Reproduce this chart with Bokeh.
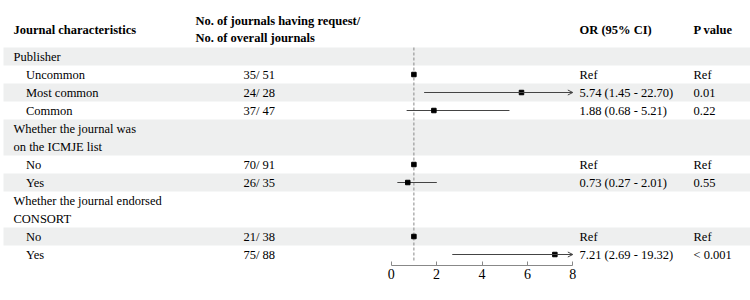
import math
from bokeh.plotting import figure
from bokeh.models import (ColumnDataSource, Range1d, FixedTicker, Arrow, OpenHead,
                          LinearAxis)
from bokeh.core.properties import value
from bokeh.embed import file_html
from bokeh.resources import INLINE

nan = float("nan")

# ---- data ----
labels = ["Publisher", "Uncommon", "Most common", "Common",
          "Whether the journal was\non the ICMJE list", "No", "Yes",
          "Whether the journal endorsed\nCONSORT", "No", "Yes"]
is_group = [True, False, False, False, True, False, False, True, False, False]
counts = ["", "35/ 51", "24/ 28", "37/ 47", "", "70/ 91", "26/ 35", "", "21/ 38", "75/ 88"]
or_est = [nan, 1.0, 5.74, 1.88, nan, 1.0, 0.73, nan, 1.0, 7.21]
ci_lo = [nan, nan, 1.45, 0.68, nan, nan, 0.27, nan, nan, 2.69]
ci_hi = [nan, nan, 22.70, 5.21, nan, nan, 2.01, nan, nan, 19.32]
or_text = ["", "Ref", "5.74 (1.45 - 22.70)", "1.88 (0.68 - 5.21)", "", "Ref",
           "0.73 (0.27 - 2.01)", "", "Ref", "7.21 (2.69 - 19.32)"]
p_text = ["", "Ref", "0.01", "0.22", "", "Ref", "0.55", "", "Ref", "< 0.001"]
header_cols = ["Journal characteristics",
               "No. of journals having request/\nNo. of overall journals",
               "", "OR (95% CI)", "P value"]
x_ticks = [0, 2, 4, 6, 8]
x_lim = (0, 8)
ref_value = 1

# ---- layout ----
W, H = 750, 300
AX_PX = 265          # y of axis line (pixels from top)
X0_PX, X8_PX = 390.7, 572.3
scale = (X8_PX - X0_PX) / (x_lim[1] - x_lim[0])


def px(xp):
    return x_lim[0] + (xp - X0_PX) / scale


ROW_H = 18
TOP = 47
FS = "12.5px"
FONT = value("Liberation Serif")
COL_LABEL, COL_INDENT, COL_COUNT, COL_OR, COL_P = 13, 25.5, 243, 579, 693

p = figure(width=W, height=H, output_backend="svg", toolbar_location=None,
           x_range=Range1d(px(0), px(W)), y_range=Range1d(AX_PX, 0),
           min_border_left=0, min_border_right=0, min_border_top=0,
           min_border_bottom=H - AX_PX, x_axis_location=None, y_axis_location=None)
p.xgrid.visible = False
p.ygrid.visible = False
p.outline_line_color = None
p.background_fill_color = "white"
p.border_fill_color = "white"

# row geometry
row_top, row_mid, line_y = [], [], []
t = TOP
for lab in labels:
    n = len(lab.split("\n"))
    row_top.append(t)
    row_mid.append(t + n * ROW_H / 2)
    line_y.append([t + ROW_H / 2 + ROW_H * i for i in range(n)])
    t += n * ROW_H
bottom = t

# shading (alternate rows)
sh_y, sh_h = [], []
for i, lab in enumerate(labels):
    if i % 2 == 0:
        n = len(lab.split("\n"))
        sh_y.append(row_top[i] + n * ROW_H / 2)
        sh_h.append(n * ROW_H)
p.rect(x=[(px(3) + px(W)) / 2] * len(sh_y), y=sh_y, width=px(W) - px(3), height=sh_h,
       fill_color="#eeefef", line_color=None)

# texts
tx, ty, tt = [], [], []
for i, lab in enumerate(labels):
    for j, line in enumerate(lab.split("\n")):
        tx.append(px(COL_LABEL if is_group[i] else COL_INDENT))
        ty.append(line_y[i][j])
        tt.append(line)
    for col, txt in ((COL_COUNT, counts[i]), (COL_OR, or_text[i]), (COL_P, p_text[i])):
        if txt:
            tx.append(px(col))
            ty.append(row_mid[i])
            tt.append(txt)
p.text(x=tx, y=ty, text=tt, text_font=FONT, text_font_size=FS,
       text_baseline="middle", text_align="left", text_color="black")

# header
hx, hy, ht = [], [], []
for col, h in zip([COL_LABEL, 195, None, COL_OR, COL_P], header_cols):
    if not h:
        continue
    lines = h.split("\n")
    n = len(lines)
    for j, line in enumerate(lines):
        hx.append(px(col))
        hy.append(29 + (j - (n - 1) / 2) * 17)
        ht.append(line)
p.text(x=hx, y=hy, text=ht, text_font=FONT, text_font_size=FS, text_font_style="bold",
       text_baseline="middle", text_align="left", text_color="black")

# reference line
p.segment(x0=[ref_value], y0=[TOP], x1=[ref_value], y1=[bottom - 1],
          line_color="#888888", line_width=1, line_dash="3 2")

# CIs
seg = dict(x0=[], x1=[], y=[])
arr = dict(x0=[], x1=[], y=[])
for i in range(len(labels)):
    if math.isnan(ci_lo[i]):
        continue
    lo = max(ci_lo[i], x_lim[0])
    hi = ci_hi[i]
    if hi > x_lim[1]:
        arr["x0"].append(lo); arr["x1"].append(x_lim[1]); arr["y"].append(row_mid[i])
    else:
        seg["x0"].append(lo); seg["x1"].append(hi); seg["y"].append(row_mid[i])
p.segment(x0=seg["x0"], y0=seg["y"], x1=seg["x1"], y1=seg["y"],
          line_color="#444444", line_width=1)
asrc = ColumnDataSource(dict(x0=arr["x0"], x1=arr["x1"], y=arr["y"]))
p.add_layout(Arrow(end=OpenHead(size=5, line_color="#444444", line_width=1),
                   x_start="x0", y_start="y", x_end="x1", y_end="y", source=asrc,
                   line_color="#444444", line_width=1))

# point estimates
px_est = [e for e in or_est if not math.isnan(e)]
py_est = [row_mid[i] for i, e in enumerate(or_est) if not math.isnan(e)]
p.scatter(x=px_est, y=py_est, marker="square", size=4.5, color="black")

# axis
ax = LinearAxis(ticker=FixedTicker(ticks=x_ticks), bounds=x_lim)
ax.axis_line_color = "#888888"
ax.major_tick_line_color = "#888888"
ax.major_tick_in = 4
ax.major_tick_out = 0
ax.minor_tick_line_color = None
ax.major_label_text_font = "Liberation Serif"
ax.major_label_text_font_size = "14px"
ax.major_label_text_color = "black"
ax.major_label_standoff = 3
p.add_layout(ax, "below")

open("out.html", "w").write(file_html(p, INLINE))
